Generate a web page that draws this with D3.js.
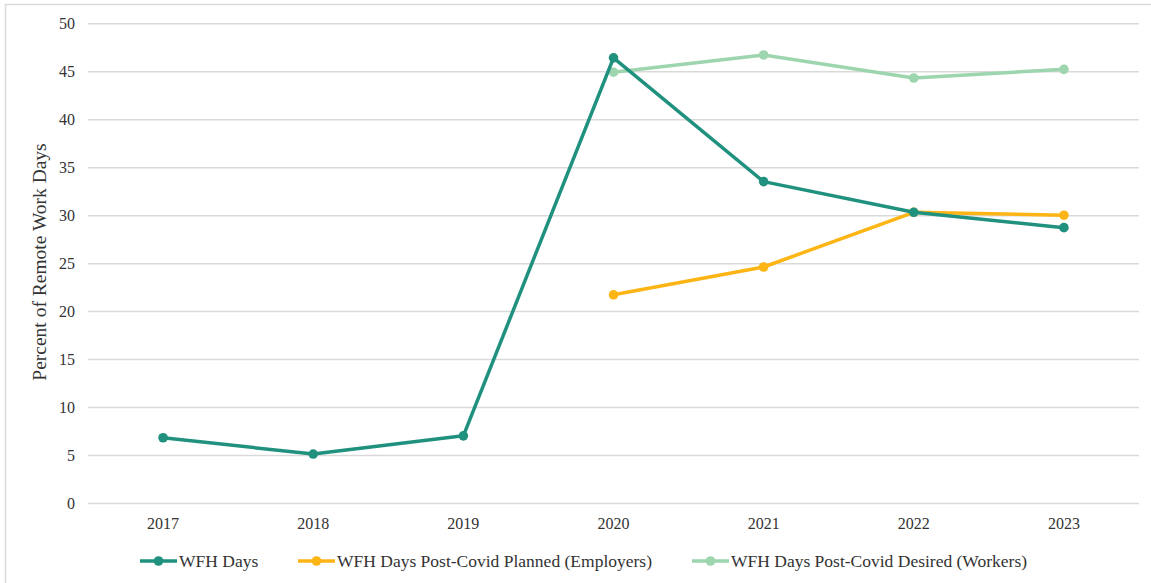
<!DOCTYPE html>
<html>
<head>
<meta charset="utf-8">
<script src="https://cdn.jsdelivr.net/npm/d3@7"></script>
<style>
  html, body { margin: 0; padding: 0; background: #fff; }
  svg { display: block; }
  text { font-family: "Liberation Serif", "DejaVu Serif", serif; fill: #333; }
</style>
</head>
<body>
<svg id="chart" width="1151" height="583"></svg>
<script>
// Remote work share by year
const years = ["2017", "2018", "2019", "2020", "2021", "2022", "2023"];
const wfhDays = [6.8, 5.1, 7.0, 46.4, 33.5, 30.3, 28.7];
const plannedYears = ["2020", "2021", "2022", "2023"];
const plannedEmployers = [21.7, 24.6, 30.3, 30.0];
const desiredYears = ["2020", "2021", "2022", "2023"];
const desiredWorkers = [44.9, 46.7, 44.3, 45.2];
const yTicks = [0, 5, 10, 15, 20, 25, 30, 35, 40, 45, 50];

const series = [
  { name: "WFH Days", color: "#20917e", x: years, y: wfhDays },
  { name: "WFH Days Post-Covid Planned (Employers)", color: "#fdb515", x: plannedYears, y: plannedEmployers },
  { name: "WFH Days Post-Covid Desired (Workers)", color: "#9dd5ae", x: desiredYears, y: desiredWorkers }
];

const svg = d3.select("#chart");
const plot = { left: 88, right: 1139, top: 23.3, bottom: 503 };

// outer frame
svg.append("rect")
  .attr("x", 5.5).attr("y", 4.5)
  .attr("width", 1160).attr("height", 600)
  .attr("fill", "none").attr("stroke", "#d9d9d9").attr("stroke-width", 1.5);

const x = d3.scaleBand().domain(years).range([plot.left, plot.right]);
const y = d3.scaleLinear().domain([0, 50]).range([plot.bottom, plot.top]);
const cx = d => x(d) + x.bandwidth() / 2;

// gridlines + y labels
const yAxis = svg.append("g")
  .attr("transform", `translate(${plot.left},0)`)
  .call(d3.axisLeft(y).tickValues(yTicks).tickSize(-(plot.right - plot.left)).tickPadding(13).tickFormat(d3.format("d")));
yAxis.select(".domain").remove();
yAxis.selectAll(".tick line").attr("stroke", "#d9d9d9").attr("stroke-width", 1.5);
yAxis.selectAll(".tick text").attr("font-size", 16).attr("fill", "#333")
  .style("font-family", "'Liberation Serif', serif");

// x labels
const xAxis = svg.append("g")
  .attr("transform", `translate(0,${plot.bottom})`)
  .call(d3.axisBottom(x).tickSize(0).tickPadding(15));
xAxis.select(".domain").remove();
xAxis.selectAll(".tick text").attr("font-size", 16).attr("fill", "#333")
  .style("font-family", "'Liberation Serif', serif");

// y axis title
svg.append("text")
  .attr("transform", "translate(46,262) rotate(-90)")
  .attr("text-anchor", "middle")
  .attr("font-size", 19.5)
  .text("Percent of Remote Work Days");

// lines and markers
const line = d3.line().x(d => cx(d[0])).y(d => y(d[1]));
series.slice().reverse().forEach(s => {
  const pts = s.x.map((k, i) => [k, s.y[i]]);
  const g = svg.append("g");
  g.append("path").datum(pts)
    .attr("d", line).attr("fill", "none")
    .attr("stroke", s.color).attr("stroke-width", 3.5)
    .attr("stroke-linejoin", "round");
  g.selectAll("circle").data(pts).join("circle")
    .attr("cx", d => cx(d[0])).attr("cy", d => y(d[1]))
    .attr("r", 4.8).attr("fill", s.color);
});

// legend
const legendX = [140, 298, 692];
const legend = svg.append("g").attr("transform", "translate(0,561)");
series.forEach((s, i) => {
  const g = legend.append("g").attr("transform", `translate(${legendX[i]},0)`);
  g.append("line").attr("x1", 0).attr("x2", 37).attr("y1", 0).attr("y2", 0)
    .attr("stroke", s.color).attr("stroke-width", 3.5);
  g.append("circle").attr("cx", 18.5).attr("cy", 0).attr("r", 4.8).attr("fill", s.color);
  g.append("text").attr("x", 39).attr("y", 6).attr("font-size", 17.5)
    .attr("fill", "#333").text(s.name);
});
</script>
</body>
</html>
